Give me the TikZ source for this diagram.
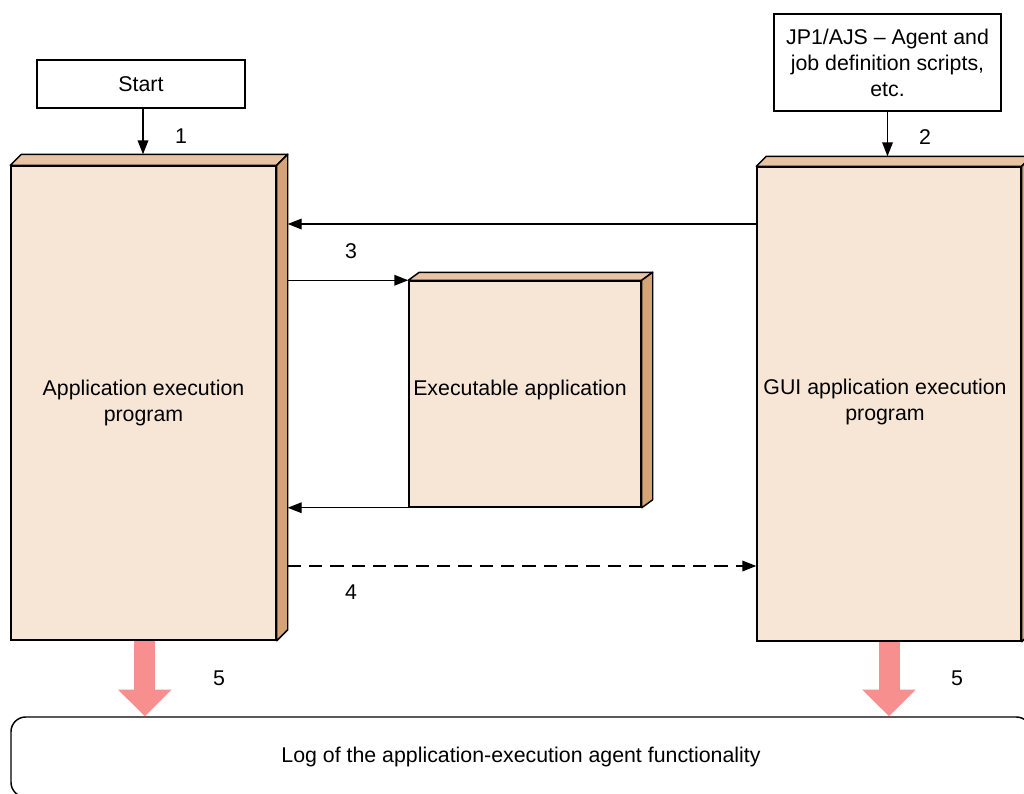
\documentclass[tikz,border=0pt]{standalone}
\usepackage{fontspec}
\setmainfont{Liberation Sans}
\usetikzlibrary{arrows.meta,positioning,calc}
\definecolor{frontc}{RGB}{247,230,214}
\definecolor{topc}{RGB}{232,196,164}
\definecolor{sidec}{RGB}{212,164,118}
\definecolor{logpink}{RGB}{248,143,143}

\begin{document}
\begin{tikzpicture}[x=0.75pt,y=-0.75pt,
    font=\fontsize{16}{19.5}\selectfont,
    slab/.style={draw,line width=1.1pt,fill=frontc,inner sep=0,align=center},
    plain/.style={draw,line width=1.1pt,fill=white,inner sep=0,align=center},
    topface/.style={draw,line width=1.1pt,fill=topc,line join=round},
    sideface/.style={draw,line width=1.1pt,fill=sidec,line join=round},
    flow/.style={line width=1.1pt,-{Triangle[length=10.5pt,width=8pt]}},
    logflow/.style={draw=logpink,line width=15.75pt,-{Triangle[length=20pt,width=39pt]}}]
    \clip (0,0) rectangle (1024,793);
    % sources
    \node[plain,minimum width=156pt,minimum height=36pt] (start) at (141,84) {Start};
    \node[plain,minimum width=170.25pt,minimum height=72.75pt] (jp1) at (887.5,62.5)
        {JP1/AJS -- Agent and\\job definition scripts,\\etc.};
    % programs
    \node[slab,minimum width=198.75pt,minimum height=355.5pt] (app) at (143.5,403)
        {Application execution\\program};
    \node[slab,minimum width=174pt,minimum height=169.5pt] (exe) at (525,394) {};
    \node (exetext) at (520,390) {Executable application};
    \node[slab,minimum width=198pt,minimum height=355.5pt] (gui) at (889,404) {};
    \node[align=center] (guitext) at (885,402) {GUI application execution\\program};
    \foreach \n/\dx/\dy in {app/11/11,exe/11/8,gui/10/10}{
      \path[topface] (\n.north west) -- ++(\dx,-\dy) -- ($(\n.north east)+(\dx,-\dy)$)
          -- (\n.north east) -- cycle;
      \path[sideface] (\n.north east) -- ++(\dx,-\dy) -- ($(\n.south east)+(\dx,-\dy)$)
          -- (\n.south east) -- cycle;
    }
    \coordinate (apptop) at ($(app.north)+(0,-11)$);
    \coordinate (guitop) at ($(gui.north)+(0,-10)$);
    \coordinate (appside) at ([xshift=8.25pt]app.east);
    % log
    \node[draw,line width=1.1pt,rounded corners=11pt,minimum width=765pt,minimum height=60pt]
        (log) at (521,757) {Log of the application-execution agent functionality};
    % connectors
    \draw[flow] ([xshift=1.5pt]start.south) -- ([xshift=1.5pt]start.south |- apptop);
    \draw[flow] (jp1.south) -- (jp1.south |- guitop);
    \draw[flow] (gui.west |- 0,224) -- (appside |- 0,224);
    \draw[flow] (appside |- exe.north west) -- (exe.north west);
    \draw[flow] (exe.south west) -- (appside |- exe.south west);
    \draw[flow,dash pattern=on 10pt off 6pt] (appside |- 0,566) -- (gui.west |- 0,566);
    \draw[logflow] ([xshift=1pt]app.south) -- ([xshift=1pt]app.south |- log.north);
    \draw[logflow] (gui.south) -- (gui.south |- log.north);
    % numbers
    \node at (181,136) {1};
    \node at (925,137) {2};
    \node at (351,251) {3};
    \node at (351,592) {4};
    \node at (219,678) {5};
    \node at (957,678) {5};
  \end{tikzpicture}
\end{document}
